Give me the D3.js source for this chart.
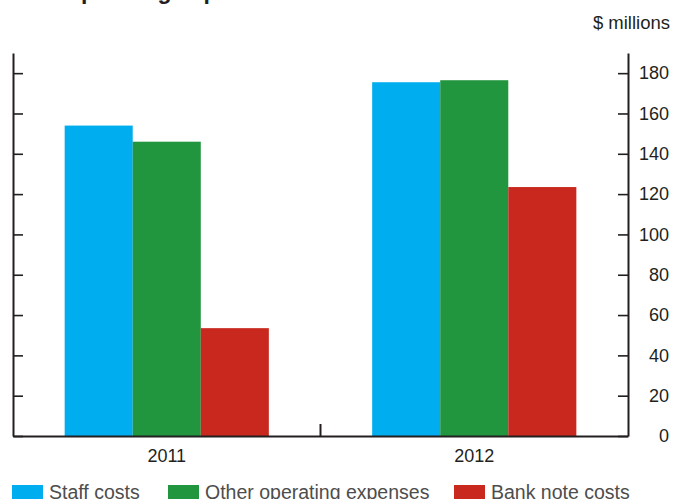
<!DOCTYPE html>
<html>
<head>
<meta charset="utf-8">
<script src="https://cdn.jsdelivr.net/npm/d3@7"></script>
<style>
  html, body { margin: 0; padding: 0; background: #fff; }
  svg { display: block; font-family: "Liberation Sans", Arial, Helvetica, sans-serif; }
</style>
</head>
<body>
<svg id="chart" width="677" height="499"></svg>
<script>
// ---- data ----
const years = ["2011", "2012"];
const seriesNames = ["Staff costs", "Other operating expenses", "Bank note costs"];
const staffCosts = [154, 175.5];
const otherOperating = [146, 176.5];
const bankNoteCosts = [53.5, 123.5];
const yTicks = [0, 20, 40, 60, 80, 100, 120, 140, 160, 180];
const colors = ["#00aeef", "#22963f", "#c8281e"];
const titleText = "Operating expenses";
const unitText = "$ millions";

const seriesValues = [staffCosts, otherOperating, bankNoteCosts];

(function () {
const svg = d3.select("#chart");
const pLeft = 13, pRight = 628, pBottom = 436, pTop = 53;
const axisColor = "#231f20";

const x0 = d3.scaleBand().domain(years).range([pLeft, pRight]).paddingInner(0).paddingOuter(0);
const groupW = x0.bandwidth() * 0.664;
const x1 = d3.scaleBand().domain(seriesNames).range([0, groupW]).padding(0);
const y = d3.scaleLinear().domain([0, 190]).range([pBottom, pTop]);

// title (mostly clipped at top)
svg.append("text")
  .attr("x", 63).attr("y", -1)
  .attr("font-size", 23).attr("font-weight", "bold").attr("fill", "#231f20")
  .text(titleText);

svg.append("text")
  .attr("x", 670).attr("y", 29)
  .attr("text-anchor", "end").attr("font-size", 18.5).attr("fill", "#231f20")
  .text(unitText);

// bars
const groups = svg.append("g").selectAll("g").data(years).join("g")
  .attr("transform", d => `translate(${x0(d) + (x0.bandwidth() - groupW) / 2},0)`);
groups.selectAll("rect")
  .data((d, i) => seriesNames.map((s, k) => ({ s, k, v: seriesValues[k][i] })))
  .join("rect")
  .attr("x", d => x1(d.s))
  .attr("width", x1.bandwidth())
  .attr("y", d => y(d.v))
  .attr("height", d => y(0) - y(d.v))
  .attr("fill", d => colors[d.k]);

// left axis (ticks inward, no labels)
const gl = svg.append("g").attr("transform", `translate(${pLeft},0)`)
  .call(d3.axisLeft(y).tickValues(yTicks).tickSizeInner(-10).tickSizeOuter(0).tickFormat(""));
// right axis (ticks inward, labels outside)
const gr = svg.append("g").attr("transform", `translate(${pRight},0)`)
  .call(d3.axisRight(y).tickValues(yTicks).tickSizeInner(-10).tickSizeOuter(0));
gr.selectAll("text").attr("x", 41).attr("text-anchor", "end")
  .attr("font-size", 18).attr("font-family", "Liberation Sans, Arial, sans-serif").attr("fill", "#231f20");

[gl, gr].forEach(g => {
  g.select(".domain").attr("stroke", axisColor).attr("stroke-width", 2);
  g.selectAll(".tick line").attr("stroke", axisColor).attr("stroke-width", 1.6);
});

// bottom axis
const gb = svg.append("g").attr("transform", `translate(0,${pBottom})`)
  .call(d3.axisBottom(x0).tickSize(0).tickPadding(13));
gb.select(".domain").attr("stroke", axisColor).attr("stroke-width", 2);
gb.selectAll("text").attr("font-size", 18).attr("font-family", "Liberation Sans, Arial, sans-serif").attr("fill", "#231f20");
// separator tick between categories
gb.append("line")
  .attr("x1", x0(years[1])).attr("x2", x0(years[1]))
  .attr("y1", 0).attr("y2", -12)
  .attr("stroke", axisColor).attr("stroke-width", 2);

// legend
const legendX = [12, 168, 454];
const lg = svg.append("g").selectAll("g").data(seriesNames).join("g")
  .attr("transform", (d, i) => `translate(${legendX[i]},485)`);
lg.append("rect").attr("width", 31).attr("height", 15).attr("fill", (d, i) => colors[i]);
lg.append("text").attr("x", 37).attr("y", 13.5).attr("font-size", 19.5).attr("fill", "#4d4d4d").text(d => d);
})();
</script>
</body>
</html>
